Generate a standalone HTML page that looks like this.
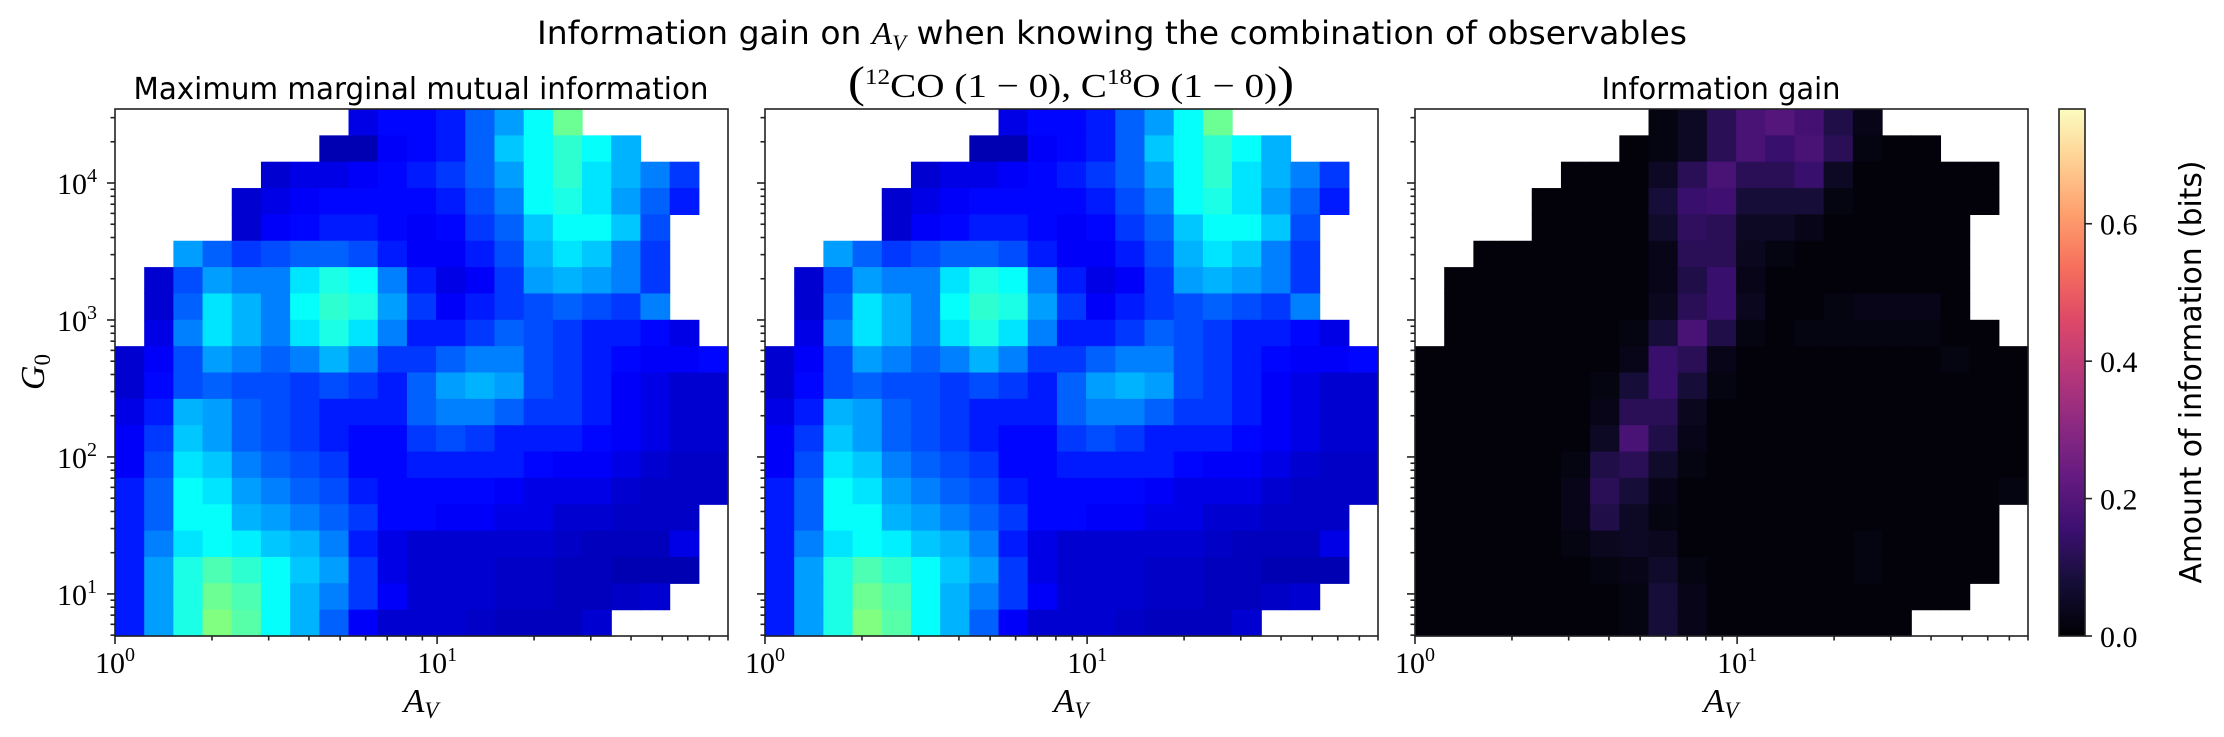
<!DOCTYPE html>
<html><head><meta charset="utf-8"><style>
html,body{margin:0;padding:0;background:#fff;}
svg{display:block;}
text{fill:#000;}
.sans{font-family:"DejaVu Sans","Liberation Sans",sans-serif;}
.serif{font-family:"Liberation Serif","DejaVu Serif",serif;}
</style></head><body>
<svg id="fig" width="2224" height="737" viewBox="0 0 2224 737" xmlns="http://www.w3.org/2000/svg">
<text class="sans" x="1112" y="44" font-size="32" text-anchor="middle" textLength="1150" lengthAdjust="spacingAndGlyphs">Information gain on <tspan class="serif" font-style="italic">A</tspan><tspan class="serif" font-style="italic" font-size="22" dy="6">V</tspan><tspan dy="-6"> when knowing the combination of observables</tspan></text>
<text class="sans" x="421" y="99" font-size="30" text-anchor="middle" textLength="575" lengthAdjust="spacingAndGlyphs">Maximum marginal mutual information</text>
<text class="serif" x="1071" y="97" font-size="34" text-anchor="middle" textLength="446" lengthAdjust="spacingAndGlyphs"><tspan font-size="44">(</tspan><tspan font-size="22" dy="-13">12</tspan><tspan dy="13">CO (1 − 0), C</tspan><tspan font-size="22" dy="-13">18</tspan><tspan dy="13">O (1 − 0)</tspan><tspan font-size="44">)</tspan></text>
<text class="sans" x="1721" y="99" font-size="30" text-anchor="middle" textLength="239" lengthAdjust="spacingAndGlyphs">Information gain</text>
<text class="serif" x="30" y="386" font-size="34" font-style="italic" text-anchor="middle" transform="rotate(-90 30 372)">G<tspan font-size="23" font-style="normal" dy="6">0</tspan></text>
<text class="sans" x="2191" y="372" font-size="30" text-anchor="middle" transform="rotate(-90 2191 372)" dy="10" textLength="423" lengthAdjust="spacingAndGlyphs">Amount of information (bits)</text>
<g id="layer"></g>
</svg>
<script>
// ---- data (grid values; -1 = no data) ----
// Panel 1/2: jet colormap position x100
const mmiRows = [
[-1,-1,-1,-1,-1,-1,-1,-1,10,13,13,15,22,28,38,48,-1,-1,-1,-1,-1],
[-1,-1,-1,-1,-1,-1,-1,5,5,12,13,15,22,32,38,42,38,30,-1,-1,-1],
[-1,-1,-1,-1,-1,8,10,10,12,13,15,18,22,28,38,42,35,30,25,18,-1],
[-1,-1,-1,-1,8,10,12,13,13,13,13,15,20,25,38,40,35,28,22,15,-1],
[-1,-1,-1,-1,8,12,13,15,15,13,12,13,18,22,32,38,38,32,20,-1,-1],
[-1,-1,28,22,18,20,22,22,20,15,12,12,15,20,30,35,32,25,18,-1,-1],
[-1,8,20,28,25,25,35,40,38,25,15,10,12,18,28,30,28,25,18,-1,-1],
[-1,8,22,35,30,25,38,42,40,28,18,12,15,18,20,22,20,18,25,-1,-1],
[-1,10,25,35,30,25,35,40,35,25,15,15,18,22,20,18,15,15,13,10,-1],
[8,12,20,28,25,22,25,30,25,18,18,22,25,25,20,18,15,13,12,12,13],
[8,13,20,22,20,20,18,20,18,15,22,28,30,28,20,18,15,12,10,8,8],
[10,15,30,28,22,20,18,15,15,15,22,25,25,22,18,18,15,12,10,8,8],
[12,18,32,28,22,20,18,15,13,13,18,20,18,15,15,15,13,12,10,8,8],
[12,20,35,32,25,22,20,18,13,13,15,15,15,15,13,12,12,10,8,7,7],
[15,22,38,35,28,25,22,20,15,13,13,13,13,12,10,10,10,8,7,7,7],
[15,22,38,38,30,28,25,22,18,13,13,12,12,10,10,8,8,7,7,7,-1],
[15,25,35,38,36,32,30,25,15,10,8,8,8,8,8,7,6,6,6,10,-1],
[15,28,40,45,42,38,32,28,18,10,8,8,8,7,7,6,6,5,5,5,-1],
[15,28,40,48,45,38,30,25,18,12,8,8,8,7,7,6,6,7,8,-1,-1],
[15,28,40,50,46,38,30,22,12,8,8,8,7,6,6,6,8,-1,-1,-1,-1]
];
// Panel 3: information gain in bits
const gainRows = [
[-1,-1,-1,-1,-1,-1,-1,-1,.02,.05,.12,.18,.2,.17,.1,.03,-1,-1,-1,-1,-1],
[-1,-1,-1,-1,-1,-1,-1,.01,.02,.05,.12,.18,.15,.18,.12,.02,.01,.01,-1,-1,-1],
[-1,-1,-1,-1,-1,.01,.01,.01,.05,.12,.18,.12,.12,.15,.05,.01,.01,.01,.01,.01,-1],
[-1,-1,-1,-1,.01,.01,.01,.01,.08,.15,.16,.08,.08,.08,.02,.01,.01,.01,.01,.01,-1],
[-1,-1,-1,-1,.01,.01,.01,.01,.06,.13,.12,.05,.05,.03,.01,.01,.01,.01,.01,-1,-1],
[-1,-1,.01,.01,.01,.01,.01,.01,.03,.12,.12,.04,.02,.01,.01,.01,.01,.01,.01,-1,-1],
[-1,.01,.01,.01,.01,.01,.01,.01,.03,.1,.15,.03,.01,.01,.01,.01,.01,.01,.01,-1,-1],
[-1,.01,.01,.01,.01,.01,.01,.01,.04,.12,.15,.04,.01,.01,.02,.03,.03,.03,.01,-1,-1],
[-1,.01,.01,.01,.01,.01,.01,.02,.08,.18,.1,.02,.01,.02,.02,.02,.02,.02,.01,.01,-1],
[.01,.01,.01,.01,.01,.01,.01,.03,.15,.12,.03,.01,.01,.01,.01,.01,.01,.01,.02,.01,.01],
[.01,.01,.01,.01,.01,.01,.02,.08,.15,.08,.02,.01,.01,.01,.01,.01,.01,.01,.01,.01,.01],
[.01,.01,.01,.01,.01,.01,.03,.12,.12,.04,.01,.01,.01,.01,.01,.01,.01,.01,.01,.01,.01],
[.01,.01,.01,.01,.01,.01,.05,.18,.1,.03,.01,.01,.01,.01,.01,.01,.01,.01,.01,.01,.01],
[.01,.01,.01,.01,.01,.02,.1,.12,.06,.02,.01,.01,.01,.01,.01,.01,.01,.01,.01,.01,.01],
[.01,.01,.01,.01,.01,.03,.12,.08,.03,.01,.01,.01,.01,.01,.01,.01,.01,.01,.01,.01,.02],
[.01,.01,.01,.01,.01,.03,.1,.05,.02,.01,.01,.01,.01,.01,.01,.01,.01,.01,.01,.01,-1],
[.01,.01,.01,.01,.01,.02,.04,.05,.04,.01,.01,.01,.01,.01,.01,.02,.01,.01,.01,.01,-1],
[.01,.01,.01,.01,.01,.01,.02,.03,.06,.02,.01,.01,.01,.01,.01,.02,.01,.01,.01,.01,-1],
[.01,.01,.01,.01,.01,.01,.01,.02,.08,.03,.01,.01,.01,.01,.01,.01,.01,.01,.01,-1,-1],
[.01,.01,.01,.01,.01,.01,.01,.02,.08,.03,.01,.01,.01,.01,.01,.01,.01,-1,-1,-1,-1]
];
const xTickExps = [0, 1];
const yTickExps = [1, 2, 3, 4];
const cbTicks = [0.0, 0.2, 0.4, 0.6];
const cbLabels = ["0.0", "0.2", "0.4", "0.6"];
const xDomain = [1, 80];
const yDomain = [4.93, 34700];
const cbMax = 0.767;

// ---- layout ----
const NS = "http://www.w3.org/2000/svg";
const layer = document.getElementById('layer');
const TOP = 109, BOT = 636, PW = 613;
const panelLefts = [115, 765, 1415];
function xScale(left, v){ return left + (Math.log10(v) - Math.log10(xDomain[0])) / (Math.log10(xDomain[1]) - Math.log10(xDomain[0])) * PW; }
function yScale(v){ return BOT - (Math.log10(v) - Math.log10(yDomain[0])) / (Math.log10(yDomain[1]) - Math.log10(yDomain[0])) * (BOT - TOP); }
function colX(left, c, n){ return left + c * PW / n; }
function rowY(r, n){ return TOP + r * (BOT - TOP) / n; }
function cbY(v){ return BOT - v / cbMax * (BOT - TOP); }
function mk(tag, attrs){ const e = document.createElementNS(NS, tag); for (const k in attrs) e.setAttribute(k, attrs[k]); return e; }

function jet(t){
  const c = x => Math.max(0, Math.min(1, x));
  const r = c(1.5 - Math.abs(4*t - 3)), g = c(1.5 - Math.abs(4*t - 2)), b = c(1.5 - Math.abs(4*t - 1));
  return `rgb(${Math.round(r*255)},${Math.round(g*255)},${Math.round(b*255)})`;
}
const magmaStops = [[0,0,4],[20,14,54],[59,15,112],[100,26,128],[140,41,129],[183,55,121],[222,73,104],[246,111,92],[254,159,109],[254,207,146],[252,253,191]];
function magma(t){
  t = Math.max(0, Math.min(1, t)); const p = t*10, i = Math.min(9, Math.floor(p)), f = p - i;
  const a = magmaStops[i], b = magmaStops[i+1];
  return `rgb(${Math.round(a[0]+(b[0]-a[0])*f)},${Math.round(a[1]+(b[1]-a[1])*f)},${Math.round(a[2]+(b[2]-a[2])*f)})`;
}

function drawHeat(pi, rows, colorFn){
  const left = panelLefts[pi];
  const g = mk('g', {});
  
  
  const nr = rows.length;
  rows.forEach((row, r) => {
    const n = row.length;
    row.forEach((v, c) => {
      if (v < 0) return;
      const x0 = colX(left, c, n), x1 = colX(left, c+1, n), y0 = rowY(r, nr), y1 = rowY(r+1, nr);
      const rect = mk('rect', {x: x0.toFixed(2), y: y0.toFixed(2), width: (x1-x0+0.6).toFixed(2), height: (y1-y0+0.6).toFixed(2), fill: colorFn(v)});
      
      
      g.appendChild(rect);
    });
  });
  layer.appendChild(g);
}

function drawAxes(pi, showY){
  const left = panelLefts[pi];
  const g = mk('g', {stroke: '#222', 'stroke-width': 1.6});
  
  
  const frame = mk('rect', {x: left, y: TOP, width: PW, height: BOT - TOP, fill: 'none'});
  
  
  g.appendChild(frame);
  for (let e = 0; e <= 1; e++) for (let m = 1; m <= 9; m++) {
    const v = m * Math.pow(10, e); if (v > xDomain[1]) continue;
    const x = xScale(left, v), len = m === 1 ? 8 : 4.5;
    g.appendChild(mk('line', {x1: x, y1: BOT, x2: x, y2: BOT + len}));
  }
  for (let e = 0; e <= 4; e++) for (let m = 1; m <= 9; m++) {
    const v = m * Math.pow(10, e); if (v < yDomain[0] || v > yDomain[1]) continue;
    const y = yScale(v), len = m === 1 ? 8 : 4.5;
    g.appendChild(mk('line', {x1: left, y1: y, x2: left - len, y2: y}));
  }
  layer.appendChild(g);
  xTickExps.forEach(e => {
    const t = mk('text', {x: xScale(left, Math.pow(10, e)), y: 673, 'font-size': 30, 'text-anchor': 'middle', class: 'serif'});
    
    
    t.innerHTML = '10<tspan font-size="20" dy="-12">' + e + '</tspan>';
    layer.appendChild(t);
  });
  const xl = mk('text', {x: left + 306, y: 712, 'font-size': 34, 'text-anchor': 'middle', class: 'serif', 'font-style': 'italic'});
  
  
  xl.innerHTML = 'A<tspan font-size="23" dy="6">V</tspan>';
  layer.appendChild(xl);
  if (showY) yTickExps.forEach(e => {
    const t = mk('text', {x: 97, y: yScale(Math.pow(10, e)) + 11, 'font-size': 30, 'text-anchor': 'end', class: 'serif'});
    
    
    t.innerHTML = '10<tspan font-size="20" dy="-12">' + e + '</tspan>';
    layer.appendChild(t);
  });
}

drawHeat(0, mmiRows, v => jet(v/100));
drawHeat(1, mmiRows, v => jet(v/100));
drawHeat(2, gainRows, v => magma(v/cbMax));
drawAxes(0, true); drawAxes(1, false); drawAxes(2, false);

// colorbar
const CBX = 2059, CBW = 26;
const defs = mk('defs', {});
const grad = mk('linearGradient', {id: 'cbgrad', x1: 0, y1: 1, x2: 0, y2: 0});
for (let i = 0; i <= 20; i++) grad.appendChild(mk('stop', {offset: i/20, 'stop-color': magma(i/20)}));
defs.appendChild(grad); layer.appendChild(defs);
const cb = mk('rect', {x: CBX, y: TOP, width: CBW, height: BOT - TOP, fill: 'url(#cbgrad)', stroke: '#222', 'stroke-width': 1.6});


layer.appendChild(cb);
cbTicks.forEach((v, i) => {
  const y = cbY(v);
  layer.appendChild(mk('line', {x1: CBX + CBW, y1: y, x2: CBX + CBW + 7, y2: y, stroke: '#222', 'stroke-width': 1.6}));
  const t = mk('text', {x: 2100, y: y + 11, 'font-size': 30, class: 'serif'});
  
  
  t.textContent = cbLabels[i];
  layer.appendChild(t);
});
</script>
</body></html>
